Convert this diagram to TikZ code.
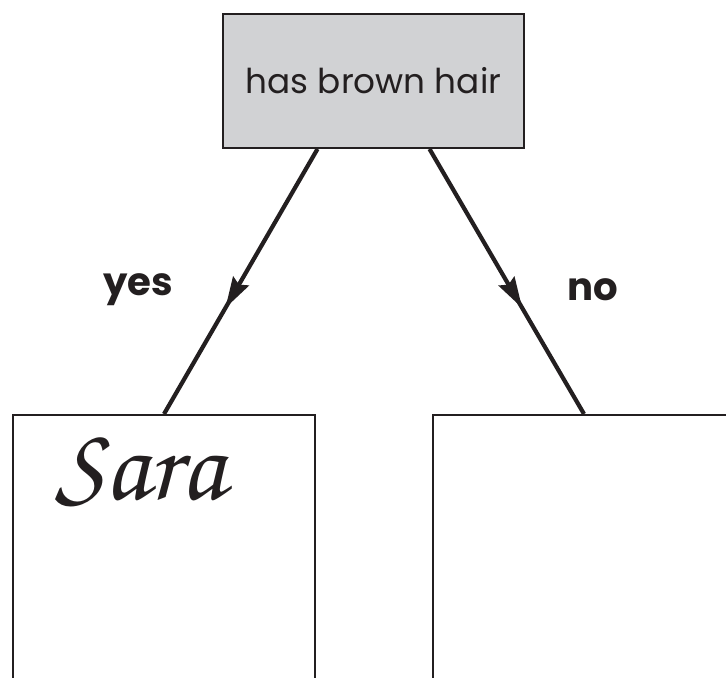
\documentclass[tikz,border=0pt]{standalone}
\usepackage{fontspec}
\setmainfont{Poppins}
\newfontfamily\handfont{TeX Gyre Chorus}
\usetikzlibrary{arrows.meta,decorations.markings}
\definecolor{inkblack}{HTML}{231F20}
\definecolor{boxgray}{HTML}{D1D2D4}

\begin{document}
\begin{tikzpicture}[x=0.02cm,y=-0.02cm,
		question/.style={draw=inkblack,fill=boxgray,line width=1.1pt,minimum width=6.02cm,minimum height=2.68cm,font=\fontsize{19.5}{24}\selectfont,text=inkblack},
		leaf/.style={draw=inkblack,line width=1.1pt,minimum width=6.04cm,minimum height=8cm,anchor=north},
		answer/.style={font=\fontsize{22}{26}\selectfont\bfseries,text=inkblack},
		edge/.style={draw=inkblack,line width=2.4pt,postaction={decorate},
			decoration={markings,mark=at position 0.6 with {\arrow{Stealth[length=0.62cm,width=0.36cm,inset=0.08cm]}}}}]
		\useasboundingbox (0,0) rectangle (726,677);
		\node[question] (hair) at (373.5,81) {has brown hair};
		\node[leaf] (yesbox) at (164,414) {};
		\node[leaf] (nobox) at (584,414) {};
		\node[text=inkblack,font=\handfont\fontsize{60}{64}\selectfont] (sara) at (140,472) {Sara};
		\draw[edge] ([xshift=-1.12cm]hair.south) -- (yesbox.north);
		\draw[edge] ([xshift=1.12cm]hair.south) -- (nobox.north);
		\node[answer] (yes) at (138,290) {yes};
		\node[answer] (no) at (593,290) {no};
	\end{tikzpicture}
\end{document}
